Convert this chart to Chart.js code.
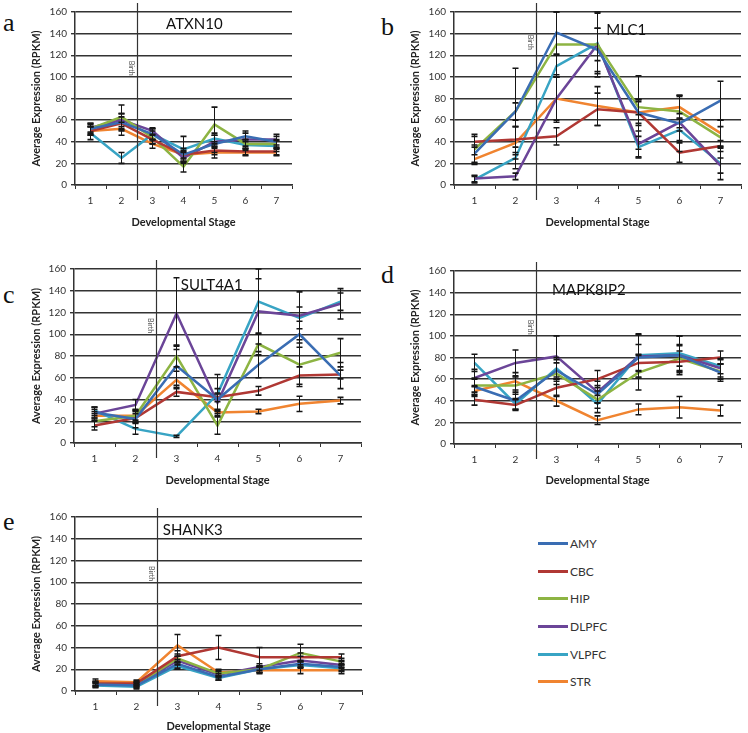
<!DOCTYPE html>
<html>
<head>
<meta charset="utf-8">
<script src="https://cdn.jsdelivr.net/npm/chart.js@4/dist/chart.umd.min.js"></script>
<style>
  html, body { margin: 0; padding: 0; background: #fff; }
  body { width: 748px; height: 733px; position: relative; overflow: hidden; font-family: Lato, 'Open Sans', sans-serif; }
  .panel { position: absolute; }
  .letter { position: absolute; font-family: 'Liberation Serif', 'DejaVu Serif', serif; font-size: 26px; color: #111; line-height: 1; }
  #legend { position: absolute; left: 538px; top: 530px; }
  .lg { height: 27.6px; display: flex; align-items: center; font-size: 12px; color: #333; }
  .lg .sw { display: inline-block; width: 30px; height: 3px; margin-right: 2px; }
</style>
</head>
<body>
<div class="letter" style="left:3px;top:10px">a</div>
<div class="letter" style="left:381px;top:14px">b</div>
<div class="letter" style="left:3px;top:282px">c</div>
<div class="letter" style="left:381px;top:262px">d</div>
<div class="letter" style="left:3px;top:509px">e</div>
<div id="legend"></div>
<script>
// stages along x, brain regions as series
const stages = ['1', '2', '3', '4', '5', '6', '7'];
const regions = ['AMY', 'CBC', 'HIP', 'DLPFC', 'VLPFC', 'STR'];
const colors = ['#3A6DB3', '#B03834', '#8DB443', '#6B4598', '#38A4C4', '#F08430'];

// rows follow regions order: AMY, CBC, HIP, DLPFC, VLPFC, STR
const ATXN10 = [
    [52, 58, 47, 28, 38, 45, 40],
    [50, 57, 42, 28, 32, 31, 31],
    [52, 63, 44, 17, 56, 38, 38],
    [53, 60, 50, 25, 40, 42, 42],
    [48, 25, 47, 33, 43, 37, 36],
    [50, 52, 38, 28, 30, 30, 30]
];
const ATXN10_ERR = [
    [5, 8, 5, 6, 8, 5, 5],
    [4, 6, 4, 4, 4, 3, 3],
    [4, 11, 6, 5, 16, 4, 4],
    [4, 6, 3, 5, 6, 6, 5],
    [6, 5, 5, 12, 5, 5, 5],
    [4, 6, 4, 3, 5, 3, 3]
];

const MLC1 = [
    [29, 68, 141, 125, 67, 57, 78],
    [40, 42, 45, 70, 67, 30, 36],
    [33, 68, 130, 130, 72, 68, 44],
    [6, 8, 80, 130, 38, 58, 18],
    [5, 25, 110, 131, 35, 51, 20],
    [24, 39, 80, 73, 67, 72, 48]
];
const MLC1_ERR = [
    [8, 40, 20, 20, 34, 26, 18],
    [5, 12, 8, 15, 10, 9, 5],
    [14, 8, 30, 30, 7, 15, 10],
    [3, 3, 22, 15, 12, 8, 7],
    [3, 10, 10, 28, 10, 10, 15],
    [4, 15, 20, 18, 12, 10, 12]
];

const SULT4A1 = [
    [28, 22, 71, 40, 72, 100, 62],
    [16, 23, 47, 42, 48, 62, 63],
    [20, 25, 80, 16, 91, 72, 83],
    [27, 35, 119, 37, 121, 117, 128],
    [30, 13, 6, 45, 130, 115, 130],
    [25, 25, 58, 28, 29, 36, 39]
];
const SULT4A1_ERR = [
    [5, 8, 18, 10, 12, 12, 12],
    [4, 4, 4, 4, 4, 8, 4],
    [5, 6, 10, 8, 10, 20, 13],
    [4, 5, 33, 8, 30, 22, 14],
    [3, 5, 1, 18, 30, 10, 8],
    [4, 4, 8, 3, 2, 7, 3]
];

const MAPK8IP2 = [
    [53, 40, 68, 46, 80, 82, 66],
    [41, 36, 52, 60, 75, 76, 80],
    [54, 54, 65, 41, 66, 79, 67],
    [61, 75, 81, 48, 81, 82, 70],
    [75, 37, 70, 37, 82, 84, 72],
    [49, 58, 40, 22, 32, 34, 31]
];
const MAPK8IP2_ERR = [
    [8, 8, 10, 8, 12, 10, 8],
    [5, 5, 8, 8, 8, 10, 6],
    [6, 8, 10, 8, 16, 12, 7],
    [8, 12, 19, 10, 20, 18, 8],
    [8, 5, 10, 8, 20, 16, 7],
    [5, 8, 5, 4, 5, 10, 5]
];

const SHANK3 = [
    [6, 5, 25, 13, 20, 25, 22],
    [7, 7, 32, 40, 31, 31, 31],
    [7, 6, 30, 16, 20, 35, 27],
    [6, 6, 28, 15, 22, 28, 24],
    [5, 4, 23, 12, 20, 24, 21],
    [9, 8, 42, 17, 19, 19, 19]
];
const SHANK3_ERR = [
    [2, 2, 4, 3, 3, 3, 3],
    [2, 2, 5, 11, 9, 4, 3],
    [2, 2, 4, 3, 3, 8, 3],
    [2, 2, 4, 3, 3, 4, 3],
    [2, 2, 3, 2, 3, 3, 3],
    [2, 2, 10, 3, 3, 3, 3]
];

// error bars, birth line, gene name
const panelDecor = {
    id: 'panelDecor',
    afterDatasetsDraw(chart) {
        const {ctx, scales: {y}} = chart;
        ctx.save();
        ctx.strokeStyle = '#161616';
        chart.data.datasets.forEach((ds, i) => {
            const meta = chart.getDatasetMeta(i);
            ds.errors.forEach((e, j) => {
                if (!e) return;
                const v = ds.data[j];
                const px = meta.data[j].x;
                const hi = y.getPixelForValue(Math.min(160, v + e));
                const lo = y.getPixelForValue(Math.max(0, v - e));
                ctx.lineWidth = 1;
                ctx.beginPath();
                ctx.moveTo(px, hi);
                ctx.lineTo(px, lo);
                ctx.stroke();
                ctx.lineWidth = 1.6;
                ctx.beginPath();
                ctx.moveTo(px - 3, hi);
                ctx.lineTo(px + 3, hi);
                ctx.moveTo(px - 3, lo);
                ctx.lineTo(px + 3, lo);
                ctx.stroke();
            });
        });
        ctx.restore();
    },
    afterDraw(chart, args, opts) {
        const {ctx, chartArea: {left, right, top, bottom}, scales: {x, y}} = chart;
        const bx = Math.round((x.getPixelForValue(1) + x.getPixelForValue(2)) / 2) + 0.5;
        ctx.save();
        ctx.strokeStyle = '#333';
        ctx.lineWidth = 1.2;
        ctx.beginPath();
        ctx.moveTo(bx, top - 9);
        ctx.lineTo(bx, bottom + 15);
        ctx.stroke();

        // "Birth" label, rotated, just left of the line
        ctx.translate(bx - 6, y.getPixelForValue(opts.birthAt));
        ctx.rotate(Math.PI / 2);
        ctx.fillStyle = '#555';
        ctx.font = '7px Lato';
        ctx.textAlign = 'center';
        ctx.textBaseline = 'middle';
        ctx.fillText('Birth', 0, 0);
        ctx.restore();

        ctx.save();
        ctx.fillStyle = '#111';
        ctx.font = '15px Lato';
        ctx.textAlign = 'center';
        ctx.textBaseline = 'middle';
        ctx.fillText(opts.gene, left + opts.geneX * (right - left), y.getPixelForValue(opts.geneY));
        ctx.restore();
    }
};

const panels = [
    {gene: 'ATXN10', values: ATXN10, errors: ATXN10_ERR, left: 0, top: 2, width: 300, height: 230, yW: 75, xH: 47, padR: 8, xTitlePad: 3, geneX: 0.55, geneY: 149, birthAt: 108},
    {gene: 'MLC1', values: MLC1, errors: MLC1_ERR, left: 379, top: 2, width: 369, height: 230, yW: 75, xH: 47, padR: 7, xTitlePad: 3, geneX: 0.6, geneY: 143, birthAt: 132},
    {gene: 'SULT4A1', values: SULT4A1, errors: SULT4A1_ERR, left: 0, top: 259, width: 368, height: 231, yW: 74, xH: 47, padR: 7, xTitlePad: 3, geneX: 0.48, geneY: 145, birthAt: 108},
    {gene: 'MAPK8IP2', values: MAPK8IP2, errors: MAPK8IP2_ERR, left: 379, top: 261, width: 369, height: 229, yW: 75, xH: 46, padR: 7, xTitlePad: 3, geneX: 0.47, geneY: 142, birthAt: 108},
    {gene: 'SHANK3', values: SHANK3, errors: SHANK3_ERR, left: 0, top: 507, width: 369, height: 226, yW: 75, xH: 42, padR: 7, xTitlePad: 0, geneX: 0.41, geneY: 148, birthAt: 108}
];

const tickFont = {family: 'Lato', size: 10};
const titleFont = {family: 'Lato', size: 11, weight: 'bold'};

panels.forEach(p => {
    const wrap = document.createElement('div');
    wrap.className = 'panel';
    wrap.style.left = p.left + 'px';
    wrap.style.top = p.top + 'px';
    const canvas = document.createElement('canvas');
    canvas.width = p.width;
    canvas.height = p.height;
    wrap.appendChild(canvas);
    document.body.appendChild(wrap);

    new Chart(canvas, {
        type: 'line',
        data: {
            labels: stages,
            datasets: regions.map((r, i) => ({
                label: r,
                data: p.values[i],
                errors: p.errors[i],
                borderColor: colors[i],
                backgroundColor: colors[i],
                borderWidth: 2.5,
                pointRadius: 0,
                tension: 0,
                fill: false
            }))
        },
        options: {
            responsive: false,
            animation: false,
            layout: {padding: {top: 10, right: p.padR, bottom: 0, left: 0}},
            plugins: {
                legend: {display: false},
                tooltip: {enabled: false},
                panelDecor: {gene: p.gene, geneX: p.geneX, geneY: p.geneY, birthAt: p.birthAt}
            },
            scales: {
                x: {
                    offset: true,
                    grid: {offset: true, drawOnChartArea: false, color: '#333', tickLength: 4},
                    border: {color: '#333', width: 1.5},
                    ticks: {color: '#333', font: tickFont, padding: 6, maxRotation: 0},
                    title: {display: true, text: 'Developmental Stage', color: '#222', font: titleFont, padding: {top: 0, bottom: p.xTitlePad}},
                    afterFit(s) { s.height = p.xH; }
                },
                y: {
                    min: 0,
                    max: 160,
                    ticks: {stepSize: 20, color: '#333', font: tickFont, padding: 4},
                    grid: {color: '#333', lineWidth: 1.4, tickLength: 4},
                    border: {color: '#333', width: 1.5},
                    title: {display: true, text: 'Average Expression (RPKM)', color: '#222', font: titleFont, padding: {top: 30, bottom: 0}},
                    afterFit(s) { s.width = p.yW; }
                }
            }
        },
        plugins: [panelDecor]
    });
});

// legend
const legend = document.getElementById('legend');
regions.forEach((r, i) => {
    const row = document.createElement('div');
    row.className = 'lg';
    row.innerHTML = '<span class="sw" style="background:' + colors[i] + '"></span>' + r;
    legend.appendChild(row);
});
</script>
</body>
</html>
